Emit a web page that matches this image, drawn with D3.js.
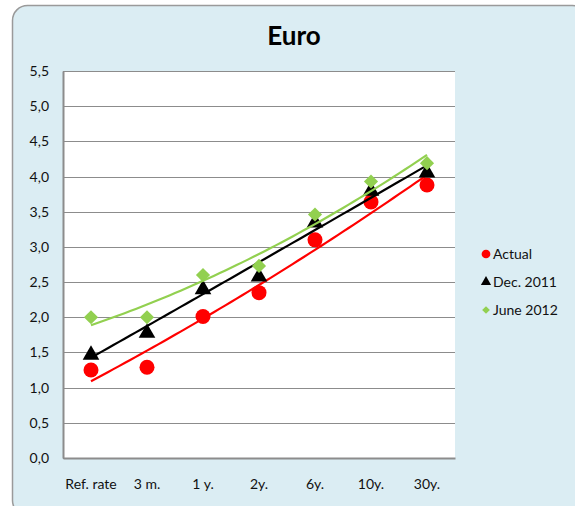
<!DOCTYPE html>
<html>
<head>
<meta charset="utf-8">
<script src="https://cdn.jsdelivr.net/npm/d3@7"></script>
<style>
  body { margin: 0; background: #ffffff; }
  text { font-family: Lato, "Open Sans", sans-serif; }
</style>
</head>
<body>
<div id="canvas"></div>
<script>
"use strict"

// chart data
let categories = ["Ref. rate", "3 m.", "1 y.", "2y.", "6y.", "10y.", "30y."];
let actual = [1.25, 1.29, 2.01, 2.35, 3.10, 3.64, 3.88];
let dec2011 = [1.48, 1.79, 2.41, 2.59, 3.36, 3.81, 4.07];
let june2012 = [2.0, 2.0, 2.6, 2.73, 3.46, 3.93, 4.19];
let yTicks = [0, 0.5, 1, 1.5, 2, 2.5, 3, 3.5, 4, 4.5, 5, 5.5];
let seriesNames = ["Actual", "Dec. 2011", "June 2012"];

let drawingWidth = 575;
let drawingHeight = 506;
let plotLeft = 63, plotRight = 455, plotTop = 71, plotBottom = 458;

let drawing = d3.select("#canvas")
    .append("svg")
    .attr("width", drawingWidth)
    .attr("height", drawingHeight);

/* background panel with rounded corners */
drawing.append("rect")
    .attr("x", 12.5)
    .attr("y", 5.5)
    .attr("width", 575)
    .attr("height", 510)
    .attr("rx", 15)
    .attr("fill", "#dbedf3")
    .attr("stroke", "#9a9a9a")
    .attr("stroke-width", 1.5);

drawing.append("text")
    .attr("x", 294)
    .attr("y", 45)
    .attr("text-anchor", "middle")
    .attr("font-size", 26)
    .attr("font-weight", "bold")
    .text("Euro");

let x = d3.scaleBand()
    .domain(categories)
    .range([plotLeft, plotRight]);

let y = d3.scaleLinear()
    .domain([0, 5.5])
    .range([plotBottom, plotTop]);

/* plot area */
drawing.append("rect")
    .attr("x", plotLeft)
    .attr("y", plotTop)
    .attr("width", plotRight - plotLeft)
    .attr("height", plotBottom - plotTop)
    .attr("fill", "white");

// gridlines
drawing.append("g")
    .selectAll("line")
    .data(yTicks)
    .join("line")
    .attr("x1", plotLeft)
    .attr("x2", plotRight)
    .attr("y1", d => Math.round(y(d)) + 0.5)
    .attr("y2", d => Math.round(y(d)) + 0.5)
    .attr("stroke", "#8c8c8c")
    .attr("stroke-width", 1);

// y axis
let yAxis = drawing.append("g")
    .attr("transform", `translate(${plotLeft},0)`)
    .call(d3.axisLeft(y).tickValues(yTicks).tickSize(0).tickPadding(14)
        .tickFormat(d => d3.format(".1f")(d).replace(".", ",")));
yAxis.select(".domain").attr("stroke", "#8c8c8c").attr("stroke-width", 2);
yAxis.selectAll("text").attr("font-size", 14).attr("fill", "#111")
    .style("font-family", "Lato, sans-serif");

// x axis
let xAxis = drawing.append("g")
    .attr("transform", `translate(0,${plotBottom})`)
    .call(d3.axisBottom(x).tickSize(0).tickPadding(21));
xAxis.select(".domain").attr("stroke", "#8c8c8c").attr("stroke-width", 2);
xAxis.selectAll("text").attr("font-size", 14).attr("fill", "#111")
    .style("font-family", "Lato, sans-serif");

/* polynomial (order 2) trendline, least squares like the spreadsheet does */
function quadFit(values) {
    let xs = values.map((v, i) => i + 1);
    let s = [0, 0, 0, 0, 0], t = [0, 0, 0];
    xs.forEach((xi, i) => {
        for (let k = 0; k < 5; k++) s[k] += Math.pow(xi, k);
        for (let k = 0; k < 3; k++) t[k] += values[i] * Math.pow(xi, k);
    });
    // solve 3x3 normal equations
    let m = [[s[0], s[1], s[2], t[0]], [s[1], s[2], s[3], t[1]], [s[2], s[3], s[4], t[2]]];
    for (let c = 0; c < 3; c++) {
        for (let r = c + 1; r < 3; r++) {
            let f = m[r][c] / m[c][c];
            for (let k = c; k < 4; k++) m[r][k] -= f * m[c][k];
        }
    }
    let coef = [0, 0, 0];
    for (let r = 2; r >= 0; r--) {
        let sum = m[r][3];
        for (let k = r + 1; k < 3; k++) sum -= m[r][k] * coef[k];
        coef[r] = sum / m[r][r];
    }
    return xv => coef[0] + coef[1] * xv + coef[2] * xv * xv;
}

let step = x.step();
let catX = i => x(categories[0]) + x.bandwidth() / 2 + (i - 1) * step;

function drawTrend(values, color) {
    let f = quadFit(values);
    let pts = d3.range(1, values.length + 0.001, 0.1).map(v => [catX(v), y(f(v))]);
    drawing.append("path")
        .attr("d", d3.line()(pts))
        .attr("fill", "none")
        .attr("stroke", color)
        .attr("stroke-width", 2.2);
}

let cx = (d, i) => x(categories[i]) + x.bandwidth() / 2;

// markers
drawing.append("g").selectAll("circle")
    .data(actual)
    .join("circle")
    .attr("cx", cx)
    .attr("cy", d => y(d))
    .attr("r", 7.5)
    .attr("fill", "#ff0000");

drawTrend(actual, "#ff0000");

drawing.append("g").selectAll("path")
    .data(dec2011)
    .join("path")
    .attr("d", d3.symbol(d3.symbolTriangle, 120))
    .attr("transform", (d, i) => `translate(${cx(d, i)},${y(d) + 1})`)
    .attr("fill", "black");

drawTrend(dec2011, "black");

drawing.append("g").selectAll("path")
    .data(june2012)
    .join("path")
    .attr("d", d3.symbol(d3.symbolSquare, 100))
    .attr("transform", (d, i) => `translate(${cx(d, i)},${y(d)}) rotate(45)`)
    .attr("fill", "#92d050");

drawTrend(june2012, "#92d050");

/* legend */
let legendColors = ["#ff0000", "black", "#92d050"];
let legend = drawing.append("g").selectAll("g")
    .data(seriesNames)
    .join("g")
    .attr("transform", (d, i) => `translate(486,${254 + i * 28})`);

legend.append("path")
    .attr("d", (d, i) => i === 0 ? d3.symbol(d3.symbolCircle, 60)()
        : i === 1 ? d3.symbol(d3.symbolTriangle, 45)()
        : d3.symbol(d3.symbolSquare, 30)())
    .attr("transform", (d, i) => i === 2 ? "rotate(45)" : null)
    .attr("fill", (d, i) => legendColors[i]);

legend.append("text")
    .attr("x", 7)
    .attr("y", 5)
    .attr("font-size", 14)
    .attr("fill", "#111")
    .text(d => d);
</script>
</body>
</html>
